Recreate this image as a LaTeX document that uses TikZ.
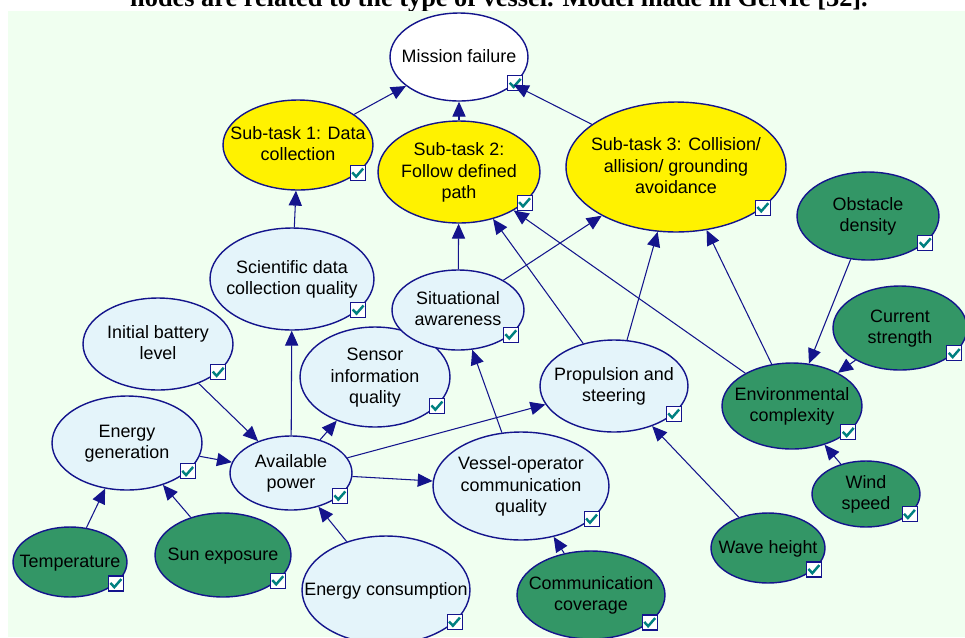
\documentclass[tikz,border=0pt]{standalone}
\usepackage{fontspec}
\setmainfont{Liberation Sans}
\newfontfamily\capfont{Liberation Serif}
\usetikzlibrary{shapes.geometric,arrows.meta}
\definecolor{bg}{RGB}{240,255,240}
\definecolor{navy}{RGB}{20,20,140}
\definecolor{lightblue}{RGB}{228,244,250}
\definecolor{darkgreen}{RGB}{51,150,102}
\definecolor{chkteal}{RGB}{0,128,128}
\newcommand{\nodetext}[1]{\makebox[0pt]{\raisebox{-0.3em}[0pt][0pt]{\begin{tabular}{@{}c@{}}#1\end{tabular}}}}

\begin{document}
\begin{tikzpicture}[x=0.02cm, y=-0.02cm,
	ell/.style={ellipse, draw=navy, line width=0.8pt, inner sep=0pt, font=\fontsize{10.2}{12.2}\selectfont},
	sz/.style 2 args={minimum width=#1cm, minimum height=#2cm},
	goal/.style={ell, fill=yellow},
	obs/.style={ell, fill=darkgreen},
	mid/.style={ell, fill=lightblue},
	chk/.style={draw=navy, fill=white, line width=0.6pt, minimum size=0.3cm, inner sep=0pt,
		path picture={\draw[chkteal, line width=1.4pt] ([shift={(-3.2pt,0.3pt)}]path picture bounding box.center) -- ++(2.2pt,-2.4pt) -- ++(4pt,4.6pt);}},
	arr/.style={navy, line width=0.6pt, -{Triangle[length=8.5pt,width=7.5pt]}}]
	\useasboundingbox (0,0) rectangle (965,637);
	\begin{scope}
		\clip (0,0) rectangle (965,11);
		\node[font=\capfont\bfseries\fontsize{15}{18}\selectfont, anchor=base] (caption) at (499,6) {nodes are related to the type of vessel. Model made in GeNIe [32].};
	\end{scope}
	\fill[bg] (8,11) rectangle (965,637);

	% goal nodes
	\node[ell, fill=white, sz={2.76}{1.76}] (mission) at (459,57) {\nodetext{Mission failure}};
	\node[goal, sz={3.0}{1.8}] (sub1) at (298,145) {\nodetext{Sub-task 1: Data\\collection}};
	\node[goal, sz={3.24}{2.04}] (sub2) at (459,172) {\nodetext{Sub-task 2:\\Follow defined\\path}};
	\node[goal, sz={4.4}{2.6}] (sub3) at (676,167) {\nodetext{Sub-task 3: Collision/\\allision/ grounding\\avoidance}};

	% environment
	\node[obs, sz={2.84}{1.76}] (obstacle) at (868,216) {\nodetext{Obstacle\\density}};
	\node[obs, sz={2.68}{1.68}] (current) at (900,328) {\nodetext{Current\\strength}};
	\node[obs, sz={2.8}{1.72}] (environment) at (792,406) {\nodetext{Environmental\\complexity}};
	\node[obs, sz={2.16}{1.32}] (wind) at (866,494) {\nodetext{Wind\\speed}};
	\node[obs, sz={2.28}{1.4}] (wave) at (768,548) {\nodetext{Wave height}};
	\node[obs, sz={2.96}{1.76}] (coverage) at (591,595) {\nodetext{Communication\\coverage}};

	% vessel
	\node[mid, sz={3.52}{2.16}] (vesselop) at (521,486) {\nodetext{Vessel-operator\\communication\\quality}};
	\node[mid, sz={2.96}{1.84}] (propulsion) at (614,386) {\nodetext{Propulsion and\\steering}};
	\node[mid, sz={3.0}{2.0}] (sensor) at (375,377) {\nodetext{Sensor\\information\\quality}};
	\node[mid, sz={2.64}{1.6}] (situation) at (458,310) {\nodetext{Situational\\awareness}};
	\node[mid, sz={3.28}{2.04}] (science) at (292,279) {\nodetext{Scientific data\\collection quality}};
	\node[mid, sz={3.0}{1.84}] (battery) at (158,344) {\nodetext{Initial battery\\level}};
	\node[mid, sz={3.0}{1.88}] (generation) at (127,443) {\nodetext{Energy\\generation}};
	\node[mid, sz={2.44}{1.48}] (power) at (291,473) {\nodetext{Available\\power}};
	\node[obs, sz={2.28}{1.4}] (temperature) at (70,562) {\nodetext{Temperature}};
	\node[obs, sz={2.72}{1.68}] (sun) at (223,555) {\nodetext{Sun exposure}};
	\node[mid, sz={3.36}{2.16}] (consumption) at (386,590) {\nodetext{Energy consumption}};

	\foreach \n in {mission,sub1,sub2,sub3,obstacle,current,environment,wind,wave,coverage,
		vesselop,propulsion,sensor,situation,science,battery,generation,power,temperature,sun,consumption}
		\node[chk] (\n-c) at (\n.-25) {};

	\path[arr]
	(sub1) edge (mission)
	(sub2) edge (mission)
	(sub3) edge (mission)
	(science) edge (sub1)
	(situation) edge (sub2) edge (sub3)
	(propulsion) edge (sub2) edge (sub3)
	(environment) edge (sub2) edge (sub3)
	(obstacle) edge (environment)
	(current) edge (environment)
	(wind) edge (environment)
	(wave) edge (propulsion)
	(power) edge (science) edge (sensor) edge (propulsion) edge (vesselop)
	(battery) edge (power)
	(generation) edge (power)
	(consumption) edge (power)
	(temperature) edge (generation)
	(sun) edge (generation)
	(vesselop) edge (situation)
	(coverage) edge (vesselop);
\end{tikzpicture}
\end{document}
